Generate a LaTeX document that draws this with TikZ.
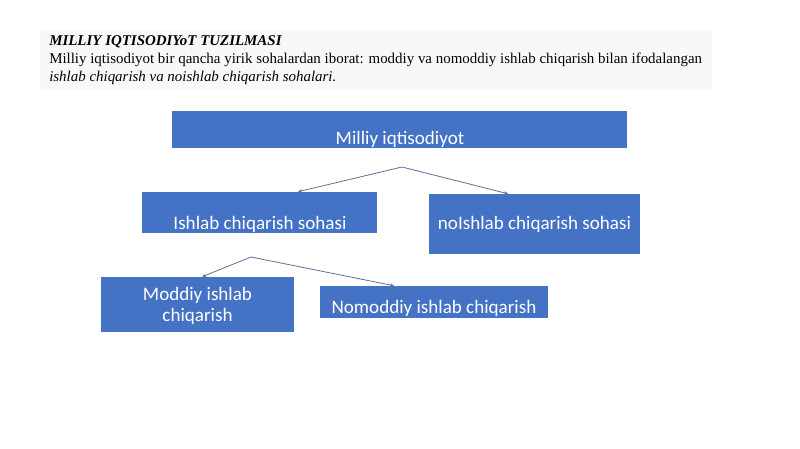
\documentclass[tikz,border=0pt]{standalone}
\usepackage{fontspec}
\setmainfont{Liberation Serif}
\newfontfamily\boxfont{Carlito}
\definecolor{boxblue}{RGB}{68,114,196}
\definecolor{linkgray}{RGB}{96,110,150}
\tikzset{
  sohabox/.style={draw=none,fill=boxblue,inner sep=0pt},
  sohatext/.style={text=white,font=\boxfont\fontsize{14.3}{15.8}\selectfont,inner sep=0.75pt,align=center},
  link/.style={draw=linkgray,line width=0.6pt,-{Stealth[length=3pt,width=2.5pt]}}
}
\usetikzlibrary{arrows.meta}
\begin{document}
\begin{tikzpicture}[x=0.75pt,y=0.75pt,yscale=-1,xscale=1]
	\useasboundingbox (0,0) rectangle (800,449);
	
	%Header background
	\fill [color={rgb, 255:red, 248; green, 248; blue, 248 }] (40,30) rectangle (712,89) ;
	% Text Node
	\node (title) [anchor=base west,inner sep=0pt,font=\fontsize{11.2}{13.5}\selectfont\bfseries\itshape] at (49,46) {MILLIY IQTISODIYoT TUZILMASI};
	% Text Node
	\node (intro) [anchor=base west,inner sep=0pt,font=\fontsize{11.2}{13.5}\selectfont] at (49,64) {Milliy iqtisodiyot bir qancha yirik sohalardan iborat: moddiy va nomoddiy ishlab chiqarish bilan ifodalangan};
	% Text Node
	\node (introb) [anchor=base west,inner sep=0pt,font=\fontsize{11.2}{13.5}\selectfont\itshape] at (49,82) {ishlab chiqarish va noishlab chiqarish sohalari.};
	
	%Shape: Rectangle
	\node (milliy) [sohabox,minimum width=341.25pt,minimum height=27.75pt] at (399.5,129.5) {};
	\node (milliyt) [sohatext] at (400,139) {Milliy iqtisodiyot};
	%Shape: Rectangle
	\node (ishlab) [sohabox,minimum width=176.25pt,minimum height=30.75pt] at (259.5,212.5) {};
	\node (ishlabt) [sohatext] at (260,224.5) {Ishlab chiqarish sohasi};
	%Shape: Rectangle
	\node (noishlab) [sohabox,minimum width=158.25pt,minimum height=45pt] at (534.5,224) {};
	\node (noishlabt) [sohatext] at (534.5,224.5) {noIshlab chiqarish sohasi};
	%Shape: Rectangle
	\node (moddiy) [sohabox,minimum width=144.75pt,minimum height=41.25pt] at (197.5,304.5) {};
	\node (moddiyt) [sohatext] at (197.5,305.5) {Moddiy ishlab\\chiqarish};
	%Shape: Rectangle
	\node (nomoddiy) [sohabox,minimum width=171pt,minimum height=24pt] at (434,302) {};
	\node (nomoddiyt) [sohatext] at (434,308) {Nomoddiy ishlab chiqarish};
	
	%Straight Lines
	\coordinate (fork1) at (402,167);
	\coordinate (fork2) at (251,257);
	\draw [link] (fork1) -- ([xshift=28.9pt]ishlab.north) ;
	\draw [link] (fork1) -- ([xshift=-19.9pt]noishlab.north) ;
	\draw [link] (fork2) -- ([xshift=3.4pt]moddiy.north) ;
	\draw [link] (fork2) -- ([xshift=-30pt]nomoddiy.north) ;
	
\end{tikzpicture}
\end{document}
